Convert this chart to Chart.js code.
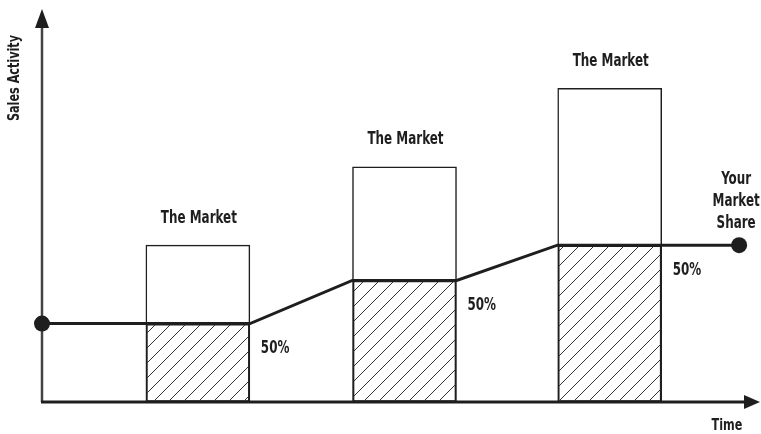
<!DOCTYPE html>
<html lang="en">
<head>
    <meta charset="UTF-8">
    <title>Your Market Share</title>
    <script src="https://cdn.jsdelivr.net/npm/chart.js@4.4.1/dist/chart.umd.min.js"></script>
    <style>
        body {
            margin: 0;
            background: #ffffff;
        }
        .chart-box {
            width: 761px;
            height: 434px;
            position: relative;
        }
    </style>
</head>
<body>
    <div class="chart-box">
        <canvas id="chart" width="761" height="434"></canvas>
    </div>

    <script>
        // Data (arbitrary units, axes have no ticks)
        const periods = [21.8, 50.7, 79.4];          // bar centres along Time
        const marketTotal = [40, 60, 80];            // height of "The Market"
        const yourShare = [20, 31, 40];              // hatched part
        const shareLabels = ['50%', '50%', '50%'];
        const marketLabel = 'The Market';
        const lineTime = [0, 29.1, 43.4, 58.0, 72.1, 97.5];
        const lineValue = [20, 20, 31, 31, 40, 40];
        const endLabel = ['Your', 'Market', 'Share'];

        const FONT = "'Liberation Sans Narrow', 'DejaVu Sans Condensed', 'DejaVu Sans', sans-serif";
        const INK = '#1e1e1e';
        const BAR_PX = 104;
        const SQUEEZE = 0.78; // the reference face is a tall condensed gothic

        function makeHatch(ctx) {
            const c = document.createElement('canvas');
            c.width = 15;
            c.height = 15;
            const g = c.getContext('2d');
            g.strokeStyle = '#333';
            g.lineWidth = 1;
            g.beginPath();
            g.moveTo(0, 15); g.lineTo(15, 0);
            g.moveTo(-3, 3); g.lineTo(3, -3);
            g.moveTo(12, 18); g.lineTo(18, 12);
            g.stroke();
            return ctx.createPattern(c, 'repeat');
        }

        // condensed text: draw at x,y squeezed horizontally
        function squeezedText(ctx, s, x, y, align) {
            ctx.save();
            ctx.translate(x, y);
            ctx.scale(SQUEEZE, 1);
            ctx.textAlign = align;
            ctx.fillText(s, 0, 0);
            ctx.restore();
        }

        // axes with arrow heads, drawn under the datasets
        const arrowAxes = {
            id: 'arrowAxes',
            beforeDatasetsDraw(chart) {
                const { ctx, chartArea: a } = chart;
                ctx.save();
                ctx.fillStyle = INK;
                // y axis
                ctx.strokeStyle = '#444';
                ctx.lineWidth = 2.5;
                ctx.beginPath();
                ctx.moveTo(a.left, a.bottom);
                ctx.lineTo(a.left, a.top + 14);
                ctx.stroke();
                ctx.beginPath();
                ctx.moveTo(a.left, a.top - 1);
                ctx.lineTo(a.left - 7, a.top + 18);
                ctx.lineTo(a.left + 7, a.top + 18);
                ctx.closePath();
                ctx.fill();
                // x axis
                ctx.strokeStyle = INK;
                ctx.lineWidth = 3;
                ctx.beginPath();
                ctx.moveTo(a.left - 1, a.bottom);
                ctx.lineTo(a.right - 8, a.bottom);
                ctx.stroke();
                ctx.beginPath();
                ctx.moveTo(a.right + 3, a.bottom);
                ctx.lineTo(a.right - 13, a.bottom - 7);
                ctx.lineTo(a.right - 13, a.bottom + 7);
                ctx.closePath();
                ctx.fill();
                ctx.restore();
            }
        };

        // text labels placed through the scales
        const chartText = {
            id: 'chartText',
            afterDatasetsDraw(chart) {
                const { ctx, chartArea: a } = chart;
                const xs = chart.scales.x, ys = chart.scales.y;
                ctx.save();
                ctx.fillStyle = INK;
                ctx.textBaseline = 'middle';
                ctx.font = `bold 17px ${FONT}`;

                periods.forEach((t, i) => {
                    const cx = xs.getPixelForValue(t);
                    squeezedText(ctx, marketLabel, cx + 1, ys.getPixelForValue(marketTotal[i]) - 27, 'center');
                    squeezedText(ctx, shareLabels[i], cx + BAR_PX / 2 + 11, ys.getPixelForValue(yourShare[i]) + 25, 'left');
                });

                const ex = xs.getPixelForValue(lineTime[lineTime.length - 1]) - 3;
                const ey = ys.getPixelForValue(lineValue[lineValue.length - 1]);
                endLabel.forEach((s, i) => {
                    squeezedText(ctx, s, ex, ey - 22 * (endLabel.length - i), 'center');
                });

                ctx.font = `bold 16px ${FONT}`;
                squeezedText(ctx, 'Time', 727, a.bottom + 24, 'center');

                ctx.translate(15, 78);
                ctx.rotate(-Math.PI / 2);
                squeezedText(ctx, 'Sales Activity', 0, 0, 'center');
                ctx.restore();
            }
        };

        document.addEventListener('DOMContentLoaded', () => {
            const canvas = document.getElementById('chart');
            const ctx = canvas.getContext('2d');
            const hatch = makeHatch(ctx);

            new Chart(canvas, {
                data: {
                    datasets: [
                        {
                            type: 'line',
                            data: lineTime.map((t, i) => ({ x: t, y: lineValue[i] })),
                            borderColor: INK,
                            borderWidth: 3,
                            pointRadius: lineTime.map((t, i) => (i === 0 || i === lineTime.length - 1) ? 8 : 0),
                            pointBackgroundColor: INK,
                            pointBorderWidth: 0,
                            tension: 0,
                            clip: false,
                            order: 0
                        },
                        {
                            type: 'bar',
                            data: periods.map((t, i) => ({ x: t, y: yourShare[i] })),
                            backgroundColor: hatch,
                            borderColor: INK,
                            borderWidth: 1.5,
                            borderSkipped: false,
                            barThickness: BAR_PX,
                            grouped: false,
                            order: 1
                        },
                        {
                            type: 'bar',
                            data: periods.map((t, i) => ({ x: t, y: [yourShare[i], marketTotal[i]] })),
                            backgroundColor: '#ffffff',
                            borderColor: INK,
                            borderWidth: 1.5,
                            borderSkipped: false,
                            barThickness: BAR_PX,
                            grouped: false,
                            order: 1
                        }
                    ]
                },
                options: {
                    responsive: false,
                    animation: false,
                    devicePixelRatio: 1,
                    layout: {
                        autoPadding: false,
                        padding: { left: 42, right: 4, top: 10, bottom: 32 }
                    },
                    plugins: {
                        legend: { display: false },
                        tooltip: { enabled: false }
                    },
                    scales: {
                        x: { type: 'linear', min: 0, max: 100, offset: false, display: false },
                        y: { type: 'linear', min: 0, max: 100, display: false }
                    }
                },
                plugins: [arrowAxes, chartText]
            });
        });
    </script>
</body>
</html>
